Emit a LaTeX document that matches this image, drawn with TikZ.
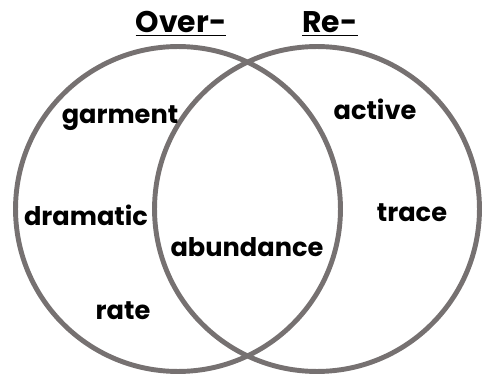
\documentclass[tikz,border=0pt]{standalone}
\usepackage{fontspec}
\setmainfont{Poppins}
\usepackage{xcolor}
\usetikzlibrary{positioning}
\definecolor{ringgray}{RGB}{118,113,113}

\begin{document}
\begin{tikzpicture}[x=0.02cm, y=-0.02cm,
    ring/.style={circle, draw=ringgray, line width=2.8pt, minimum size=6.5cm, inner sep=0pt},
    word/.style={font=\fontsize{14.6}{16}\selectfont\bfseries, text=black, inner sep=0pt},
    head/.style={font=\fontsize{17}{19}\selectfont\bfseries, text=black, inner sep=0pt}
  ]
    \useasboundingbox (0,0) rectangle (484,375);
    % the two sets
    \node[ring] (over) at (178,209) {};
    \node[ring] (re) at (317,209) {};
    % headings
    \node[head] (overtitle) at (181,24) {\underline{Over-}};
    \node[head] (retitle) at (330,24) {\underline{Re-}};
    % left only
    \node[word] (garment) at (120,118) {garment};
    \node[word] (dramatic) at (86,215) {dramatic};
    \node[word] (rate) at (123,311) {rate};
    % both
    \node[word] (abundance) at (247,247) {abundance};
    % right only
    \node[word] (active) at (375,109) {active};
    \node[word] (trace) at (412,213) {trace};
\end{tikzpicture}
\end{document}
